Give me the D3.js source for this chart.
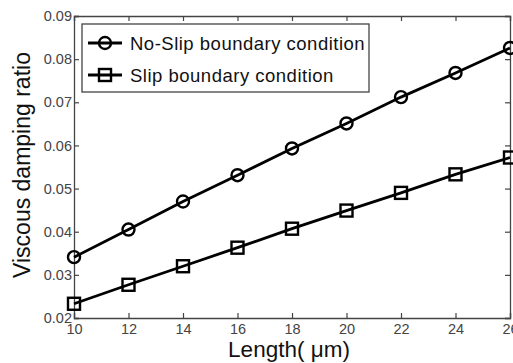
<!DOCTYPE html>
<html><head><meta charset="utf-8">
<script src="https://cdn.jsdelivr.net/npm/d3@7"></script>
<style>body{margin:0;background:#fff}svg{display:block}</style>
</head><body>
<svg id="c" width="513" height="363"></svg>
<script>
const lengths = [10, 12, 14, 16, 18, 20, 22, 24, 26];
const noSlip = [0.0341, 0.0405, 0.0470, 0.0531, 0.0593, 0.0651, 0.0712, 0.0768, 0.0826];
const slip = [0.0233, 0.0277, 0.0320, 0.0363, 0.0407, 0.0449, 0.0490, 0.0533, 0.0572];
const xTicks = [10, 12, 14, 16, 18, 20, 22, 24, 26];
const yTicks = [0.02, 0.03, 0.04, 0.05, 0.06, 0.07, 0.08, 0.09];
const seriesNames = ["No-Slip boundary condition", "Slip boundary condition"];

const svg = d3.select("#c");
const L = 74, R = 510, T = 16, B = 318;
const x = d3.scaleLinear().domain([10, 26]).range([L, R]);
const y = d3.scaleLinear().domain([0.02, 0.09]).range([B, T]);
const axisColor = "#444";
const font = "Liberation Sans, Arial, sans-serif";

// axes
const gx = svg.append("g").attr("transform", `translate(0,${B})`)
  .call(d3.axisBottom(x).tickValues(xTicks).tickSize(-5).tickPadding(6).tickFormat(d3.format("d")));
const gxt = svg.append("g").attr("transform", `translate(0,${T})`)
  .call(d3.axisTop(x).tickValues(xTicks).tickSize(-5).tickFormat(""));
const gy = svg.append("g").attr("transform", `translate(${L},0)`)
  .call(d3.axisLeft(y).tickValues(yTicks).tickSize(-5).tickPadding(2).tickFormat(d3.format(".2f")));
const gyr = svg.append("g").attr("transform", `translate(${R},0)`)
  .call(d3.axisRight(y).tickValues(yTicks).tickSize(-5).tickFormat(""));
[gx, gxt, gy, gyr].forEach(g => {
  g.select(".domain").attr("stroke", axisColor).attr("stroke-width", 1.3);
  g.selectAll(".tick line").attr("stroke", axisColor).attr("stroke-width", 1.2);
  g.selectAll(".tick text").attr("fill", "#444").attr("font-family", font).attr("font-size", 14.5);
});

// lines
const line = d3.line().x((d, i) => x(lengths[i])).y(d => y(d));
[noSlip, slip].forEach(s => {
  svg.append("path").datum(s).attr("d", line).attr("fill", "none")
    .attr("stroke", "#000").attr("stroke-width", 2.8);
});
// markers
svg.append("g").selectAll("circle").data(noSlip).join("circle")
  .attr("cx", (d, i) => x(lengths[i])).attr("cy", d => y(d)).attr("r", 6)
  .attr("fill", "none").attr("stroke", "#000").attr("stroke-width", 2.4);
svg.append("g").selectAll("rect").data(slip).join("rect")
  .attr("x", (d, i) => x(lengths[i]) - 6).attr("y", d => y(d) - 6)
  .attr("width", 12).attr("height", 12)
  .attr("fill", "none").attr("stroke", "#000").attr("stroke-width", 2.4);

// legend
const lg = svg.append("g");
lg.append("rect").attr("x", 82).attr("y", 24).attr("width", 287).attr("height", 68)
  .attr("fill", "#fff").attr("stroke", axisColor).attr("stroke-width", 1.3);
const rows = [43, 75];
seriesNames.forEach((name, i) => {
  const yy = rows[i];
  lg.append("line").attr("x1", 88).attr("x2", 122).attr("y1", yy).attr("y2", yy)
    .attr("stroke", "#000").attr("stroke-width", 2.8);
  if (i === 0) {
    lg.append("circle").attr("cx", 105).attr("cy", yy).attr("r", 6)
      .attr("fill", "none").attr("stroke", "#000").attr("stroke-width", 2.4);
  } else {
    lg.append("rect").attr("x", 99).attr("y", yy - 6).attr("width", 12).attr("height", 12)
      .attr("fill", "none").attr("stroke", "#000").attr("stroke-width", 2.4);
  }
  lg.append("text").attr("x", 130).attr("y", yy + 6.5).text(name)
    .attr("font-family", font).attr("font-size", 18.5).attr("letter-spacing", 0.5).attr("fill", "#111");
});

// axis labels
svg.append("text").attr("transform", `translate(30,165) rotate(-90)`)
  .attr("text-anchor", "middle").attr("font-family", font).attr("font-size", 23)
  .attr("fill", "#111").text("Viscous damping ratio");
svg.append("text").attr("x", 289).attr("y", 357).attr("text-anchor", "middle")
  .attr("font-family", font).attr("font-size", 22.5).attr("fill", "#111").text("Length( μm)");
</script>
</body></html>
